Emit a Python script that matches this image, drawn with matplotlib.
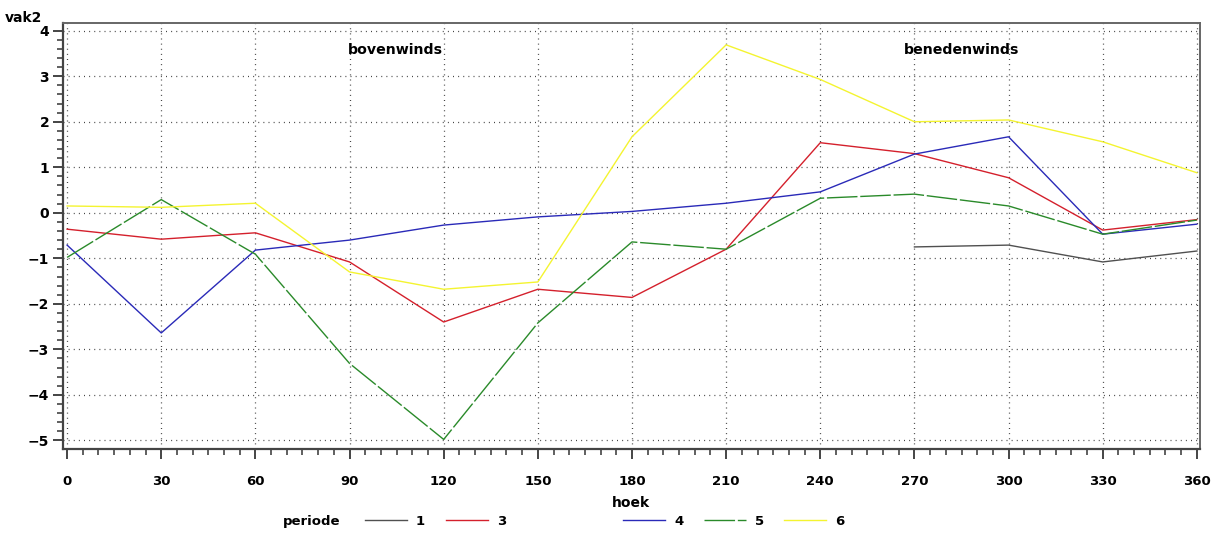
import matplotlib.pyplot as plt
from matplotlib.lines import Line2D
from matplotlib.ticker import MultipleLocator

# hoek (graden) en vak2 per periode
hoek = [0, 30, 60, 90, 120, 150, 180, 210, 240, 270, 300, 330, 360]
hoek_p1 = [270, 300, 330, 360]

vak2_p1 = [-0.75, -0.71, -1.08, -0.84]
vak2_p3 = [-0.36, -0.58, -0.44, -1.08, -2.40, -1.68, -1.86, -0.80, 1.54, 1.30, 0.77, -0.38, -0.15]
vak2_p4 = [-0.71, -2.64, -0.82, -0.60, -0.27, -0.09, 0.03, 0.21, 0.46, 1.29, 1.67, -0.47, -0.25]
vak2_p5 = [-0.98, 0.29, -0.91, -3.31, -4.98, -2.42, -0.64, -0.80, 0.32, 0.41, 0.15, -0.47, -0.16]
vak2_p6 = [0.15, 0.12, 0.21, -1.30, -1.68, -1.52, 1.67, 3.69, 2.93, 2.00, 2.04, 1.56, 0.88]

periodes = ["1", "3", "4", "5", "6"]
xticks = [0, 30, 60, 90, 120, 150, 180, 210, 240, 270, 300, 330, 360]
yticks = [-5, -4, -3, -2, -1, 0, 1, 2, 3, 4]

kleuren = ["#505050", "#d4202c", "#2a2ab8", "#2a8a2a", "#f4f430"]
stijlen = ["-", "-", "-", (0, (22, 2)), "-"]

fig = plt.figure(figsize=(12.26, 5.39), dpi=100)
ax = fig.add_axes([0.0514, 0.167, 0.9274, 0.7903])

reeksen = [(hoek_p1, vak2_p1), (hoek, vak2_p3), (hoek, vak2_p4), (hoek, vak2_p5), (hoek, vak2_p6)]
for (xs, ys), kleur, stijl in zip(reeksen, kleuren, stijlen):
    ax.plot(xs, ys, color=kleur, linestyle=stijl, linewidth=1.0)

ax.set_xlim(-1.3, 361)
ax.set_ylim(-5.19, 4.17)
ax.set_xticks(xticks)
ax.set_yticks(yticks)
ax.xaxis.set_minor_locator(MultipleLocator(5))
ax.yaxis.set_minor_locator(MultipleLocator(0.2))
ax.set_xticklabels([str(t) for t in xticks], fontweight="bold", fontsize=9.5)
ax.set_yticklabels([str(t).replace("-", "\u2212") for t in yticks], fontweight="bold", fontsize=10)
ax.tick_params(axis="both", which="major", direction="out", length=7, width=1.4, color="#444444")
ax.tick_params(axis="both", which="minor", direction="out", length=4, width=1.2, color="#444444")
ax.tick_params(axis="x", which="major", pad=12)
ax.tick_params(axis="y", which="major", pad=3)

ax.grid(True, which="major", color="#444444", linestyle=(0, (0.8, 3.3)), linewidth=0.9)

for side in ["left", "bottom"]:
    ax.spines[side].set_color("#444444")
    ax.spines[side].set_linewidth(1.6)
for side in ["top", "right"]:
    ax.spines[side].set_color("#666666")
    ax.spines[side].set_linewidth(1.4)

ax.text(104.7, 3.58, "bovenwinds", ha="center", va="center", fontweight="bold", fontsize=10.2)
ax.text(285, 3.58, "benedenwinds", ha="center", va="center", fontweight="bold", fontsize=10.2)

fig.text(0.004, 0.967, "vak2", ha="left", va="center", fontweight="bold", fontsize=10)
fig.text(0.515, 0.067, "hoek", ha="center", va="center", fontweight="bold", fontsize=10)

# legenda onderaan, met vaste posities per periode
fig.text(0.231, 0.033, "periode", ha="left", va="center", fontweight="bold", fontsize=9.5)
leg_x = [365, 446, 623, 704, 784]
for naam, kleur, stijl, x0 in zip(periodes, kleuren, stijlen, leg_x):
    y = 0.036
    fig.add_artist(Line2D([x0 / 1226, (x0 + 42) / 1226], [y, y], color=kleur,
                          linestyle=stijl, linewidth=1.0, transform=fig.transFigure))
    fig.text((x0 + 51) / 1226, 0.033, naam, ha="left", va="center", fontweight="bold", fontsize=9.5)

fig.savefig("out.png", dpi=100)
